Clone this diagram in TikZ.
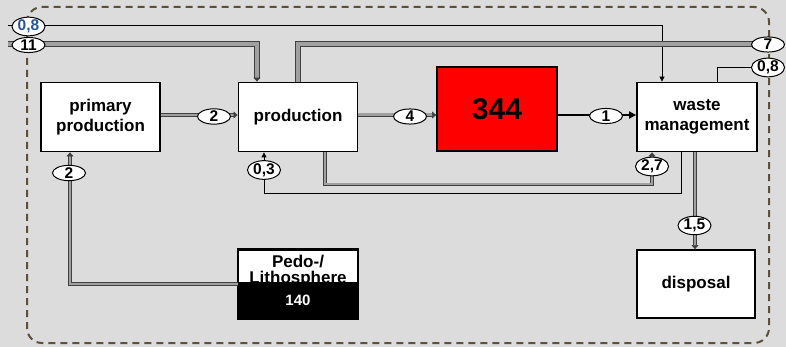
\documentclass[tikz,border=0pt]{standalone}
\usepackage{fontspec}
\setmainfont{Liberation Sans}
\usetikzlibrary{arrows.meta,shapes.geometric,positioning,calc}
\definecolor{bggray}{RGB}{220,220,220}
\definecolor{framebrown}{RGB}{90,80,60}
\definecolor{pipegray}{RGB}{160,160,160}
\definecolor{labelblue}{RGB}{40,85,150}

\begin{document}
\begin{tikzpicture}[
  x=1pt, y=-1pt,
  every node/.style={font=\bfseries\fontsize{17}{20}\selectfont},
  box/.style={rectangle, draw=black, fill=white, line width=1.8pt,
              minimum width=119pt, minimum height=69pt,
              inner sep=0pt, align=center},
  flow/.style={ellipse, draw=black, fill=white, line width=1pt,
               minimum width=33pt, minimum height=14pt, inner sep=0pt,
               font=\bfseries\fontsize{15.5}{15.5}\selectfont},
  pipe/.style={draw=black!75, line width=0.6pt, double=pipegray,
               double distance=2.2pt, -{Triangle[length=4pt, width=7pt]}},
  widepipe/.style={pipe, double distance=4pt},
  thinflow/.style={draw=black, line width=0.8pt,
                   -{Triangle[length=5pt, width=5pt]}},
]

%% -- Background and system boundary ------------------------------------
\fill[bggray] (0,0) rectangle (786,347);
\useasboundingbox (0,0) rectangle (786,347);
\draw[framebrown, line width=2pt, dash pattern=on 7pt off 5pt,
      rounded corners=15pt] (27,7) rectangle (769,343);

%% -- Processes -----------------------------------------------------------
\node[box] (pp)   at (100.5,117) {primary\\production};
\node[box] (prod) at (298,117)   {production};
\node[box, fill=red, minimum width=120pt, minimum height=84pt,
      font=\bfseries\fontsize{30}{30}\selectfont] (stock) at (497,109) {344};
\node[box, minimum width=120pt] (wm) at (697,117) {waste\\management};
\node[box, minimum height=68pt] (litho) at (298,284) {};
\node[box, minimum width=118pt, minimum height=68pt] (disp) at (696,284) {disposal};

%% -- Pedo-/Lithosphere stock ---------------------------------------------
\coordinate (lithosplit) at (298,282);
\node[align=center, font=\bfseries\fontsize{17}{16.5}\selectfont]
  (lithotext) at (298,271) {Pedo-/\\Lithosphere};
\fill[black] (litho.west |- lithosplit) rectangle (litho.south east);
\node[white, font=\bfseries\fontsize{15}{15}\selectfont] (lithostock)
  at (298,300) {140};
\draw[line width=1.8pt] (litho.north west) rectangle (litho.south east);

%% -- Flow ends outside ---------------------------------------------------
\coordinate (inA)  at (8,25.5);
\coordinate (inB)  at (8,44);
\coordinate (outA) at (784,44);
\coordinate (outB) at (768,67.5);
\coordinate (row)  at (0,115);

%% -- Flows ---------------------------------------------------------------
\draw[thinflow] (inA) -| ([xshift=-35pt]wm.north);
\draw[widepipe] (inB) -| ([xshift=-41pt]prod.north);
\draw[widepipe, -] (prod.north) |- (outA);
\draw[line width=0.8pt] ([xshift=20pt]wm.north) |- (outB);
\draw[pipe] (pp.east |- row) -- (prod.west |- row);
\draw[pipe, double distance=3pt] (prod.east |- row) -- (stock.west |- row);
\draw[line width=1.8pt, -{Triangle[length=7pt, width=7pt]}]
  (stock.east |- row) -- (wm.west |- row);
\draw[pipe] (litho.west) -| ([xshift=-30.5pt]pp.south);
\draw[thinflow] ([xshift=-16pt]wm.south) -- ++(0,41) -| ([xshift=-34pt]prod.south);
\draw[pipe] ([xshift=27pt]prod.south) -- ++(0,32) -| ([xshift=-45pt]wm.south);
\draw[pipe] ([xshift=-2pt]wm.south) -- ([xshift=-1pt]disp.north);

%% -- Flow labels ---------------------------------------------------------
\node[flow, text=labelblue] (f08a) at (28.5,26.5) {0,8};
\node[flow] (f11)  at (28.5,45)  {11};
\node[flow] (f7)   at (768,44.5) {7};
\node[flow] (f08b) at (768,67.5) {0,8};
\node[flow] (f2a)  at (214,116.5) {2};
\node[flow] (f4)   at (410,116.5) {4};
\node[flow] (f1)   at (606,116)  {1};
\node[flow] (f2b)  at (69,173)   {2};
\node[flow] (f03)  at (264,170)  {0,3};
\node[flow] (f27)  at (652,166.5) {2,7};
\node[flow] (f15)  at (694.5,225.5) {1,5};

\end{tikzpicture}
\end{document}
